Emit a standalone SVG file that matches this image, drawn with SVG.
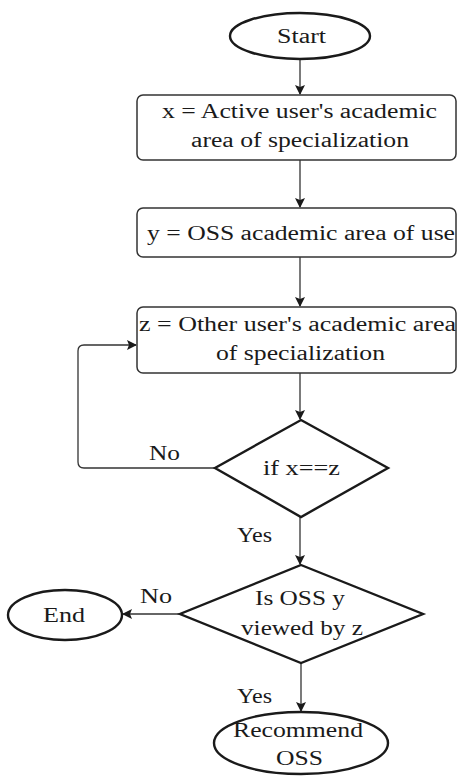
<svg xmlns="http://www.w3.org/2000/svg" width="462" height="776" viewBox="0 0 462 776">
<style>
text{font-family:'Liberation Serif','DejaVu Serif','Times New Roman',serif;font-size:20px;fill:#1a1a1a}
.box{fill:#fff;stroke:#333;stroke-width:1.5}
.sh{fill:#fff;stroke:#1a1a1a;stroke-width:2.4}
.c{fill:none;stroke:#333;stroke-width:1.3}
</style>
<defs>
<marker id="a" markerWidth="10" markerHeight="10" refX="9" refY="5" orient="auto" markerUnits="userSpaceOnUse">
<path d="M0,0 L10,5 L0,10 L2,5 Z" fill="#1a1a1a"/>
</marker>
</defs>
<rect width="462" height="776" fill="#fff"/>
<g id="connectors">
<line class="c" x1="300" y1="59" x2="300" y2="94" marker-end="url(#a)"/>
<line class="c" x1="300" y1="160" x2="300" y2="207" marker-end="url(#a)"/>
<line class="c" x1="300" y1="257" x2="300" y2="306" marker-end="url(#a)"/>
<line class="c" x1="300" y1="373" x2="300" y2="419" marker-end="url(#a)"/>
<path class="c" d="M215,468 L84,468 Q78,468 78,462 L78,351 Q78,345 84,345 L136,345" marker-end="url(#a)"/>
<line class="c" x1="300" y1="517" x2="300" y2="564" marker-end="url(#a)"/>
<line class="c" x1="180" y1="614" x2="123" y2="614" marker-end="url(#a)"/>
<line class="c" x1="301" y1="663" x2="301" y2="711" marker-end="url(#a)"/>
<text x="149" y="460" textLength="31" lengthAdjust="spacingAndGlyphs">No</text>
<text x="237" y="542" textLength="35" lengthAdjust="spacingAndGlyphs">Yes</text>
<text x="140" y="603" textLength="32" lengthAdjust="spacingAndGlyphs">No</text>
<text x="237" y="703" textLength="35" lengthAdjust="spacingAndGlyphs">Yes</text>
</g>
<g id="start">
<ellipse class="sh" cx="300" cy="36" rx="70" ry="23"/>
<text x="277" y="43" textLength="49" lengthAdjust="spacingAndGlyphs">Start</text>
</g>
<g id="x-box">
<rect class="box" x="137" y="95" width="319" height="65" rx="6"/>
<text x="162" y="118" textLength="275" lengthAdjust="spacingAndGlyphs">x = Active user's academic</text>
<text x="191" y="147" textLength="218" lengthAdjust="spacingAndGlyphs">area of specialization</text>
</g>
<g id="y-box">
<rect class="box" x="137" y="208" width="319" height="49" rx="6"/>
<text x="147" y="240" textLength="308" lengthAdjust="spacingAndGlyphs">y = OSS academic area of use</text>
</g>
<g id="z-box">
<rect class="box" x="137" y="307" width="319" height="66" rx="6"/>
<text x="139" y="331" textLength="317" lengthAdjust="spacingAndGlyphs">z = Other user's academic area</text>
<text x="216" y="360" textLength="169" lengthAdjust="spacingAndGlyphs">of specialization</text>
</g>
<g id="if-xz">
<polygon class="sh" points="301,420 388,468 301,517 215,468"/>
<text x="263" y="475" textLength="77" lengthAdjust="spacingAndGlyphs">if x==z</text>
</g>
<g id="is-viewed">
<polygon class="sh" points="301,565 423,614 301,663 180,614"/>
<text x="255" y="605" textLength="90" lengthAdjust="spacingAndGlyphs">Is OSS y</text>
<text x="241" y="635" textLength="122" lengthAdjust="spacingAndGlyphs">viewed by z</text>
</g>
<g id="end">
<ellipse class="sh" cx="65" cy="615" rx="57" ry="25"/>
<text x="43" y="622" textLength="42" lengthAdjust="spacingAndGlyphs">End</text>
</g>
<g id="recommend">
<ellipse class="sh" cx="301" cy="743" rx="87" ry="31"/>
<text x="233" y="737" textLength="130" lengthAdjust="spacingAndGlyphs">Recommend</text>
<text x="276" y="765" textLength="47" lengthAdjust="spacingAndGlyphs">OSS</text>
</g>
</svg>
